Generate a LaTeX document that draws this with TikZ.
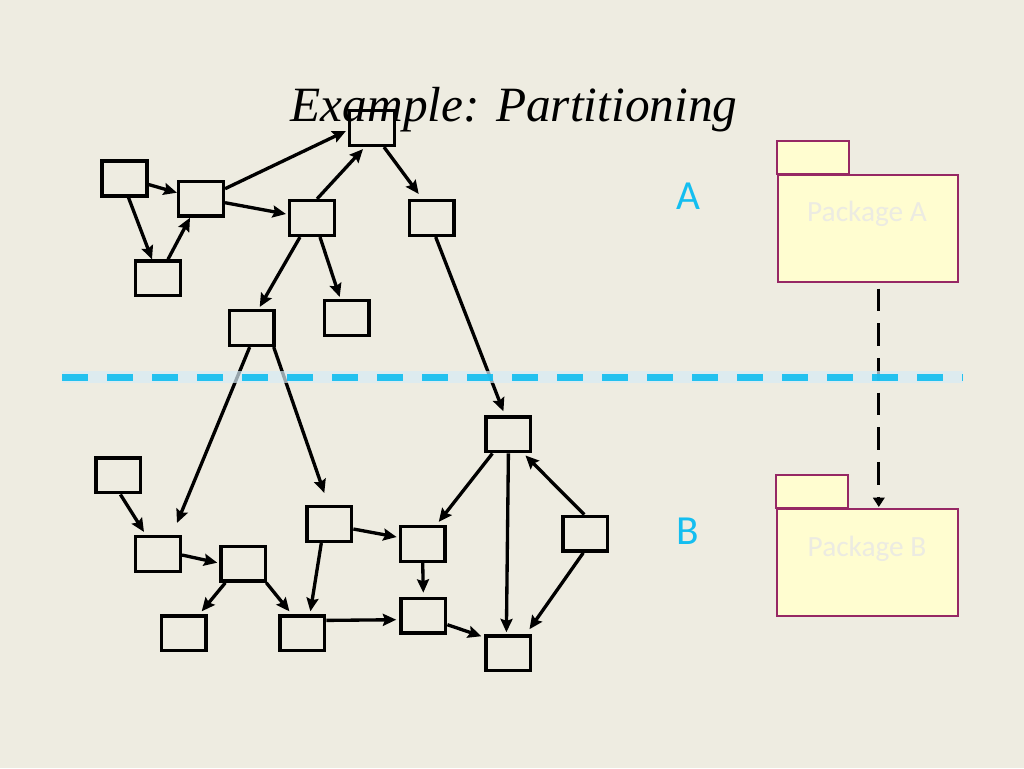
\documentclass[tikz,border=0pt]{standalone}
\usepackage{fontspec}
\setsansfont{Carlito}
\newfontfamily\titlefont{Liberation Serif}
\usetikzlibrary{arrows.meta,calc}
\definecolor{bgtan}{RGB}{238,236,225}
\definecolor{cyanline}{RGB}{20,190,240}
\definecolor{bandblue}{RGB}{215,235,245}
\definecolor{pkgfill}{RGB}{255,253,208}
\definecolor{pkgdraw}{RGB}{150,40,100}
\definecolor{pkgtxt}{RGB}{236,235,226}
\tikzset{
  box/.style={draw=black, line width=2.6pt, minimum width=33.5pt, minimum height=26pt, inner sep=0pt},
  arr/.style={line width=2.5pt, -{Stealth[length=10pt,width=9pt,inset=1.5pt]}},
  pkg/.style={draw=pkgdraw, fill=pkgfill, line width=1.2pt, inner sep=0pt},
  pkgtext/.style={font=\sffamily\fontsize{22}{24}\selectfont, text=pkgtxt},
  sidelabel/.style={font=\sffamily\fontsize{31}{33}\selectfont, text=cyanline},
  dep/.style={line width=2.2pt, dash pattern=on 17pt off 9pt, -{Triangle[length=7pt,width=8.5pt]}}
}
\begin{document}
\begin{tikzpicture}[x=0.75pt,y=-0.75pt]
\fill[bgtan] (0,0) rectangle (1024,768);
\useasboundingbox (0,0) rectangle (1024,768);

% title
\node[font=\titlefont\itshape\fontsize{37}{39}\selectfont, anchor=base] (title) at (514,121) {Example: Partitioning};

% upper boxes
\node[box] (T)  at (372,128) {};
\node[box] (B1) at (124.5,178.5) {};
\node[box] (B2) at (201,198.7) {};
\node[box] (B3) at (158,278.4) {};
\node[box] (B4) at (312,218) {};
\node[box] (B5) at (431.7,218) {};
\node[box] (B6) at (251.7,328) {};
\node[box] (B7) at (346.7,318) {};
% lower boxes
\node[box] (L1) at (118.4,475.4) {};
\node[box] (L2) at (158,554) {};
\node[box] (L3) at (243.3,563.7) {};
\node[box] (L4) at (183.7,633.4) {};
\node[box] (L5) at (302.4,633.4) {};
\node[box] (M1) at (329.3,524) {};
\node[box] (Rt) at (508.4,434.4) {};
\node[box] (M2) at (422.7,544) {};
\node[box] (M3) at (423.3,615.7) {};
\node[box] (BR) at (508.4,653.3) {};
\node[box] (FR) at (585.3,533.7) {};

% upper arrows
\draw[arr] ($(B1.east)+(0,6)$) -- ($(B2.west)+(0,-6)$);
\draw[arr] ($(B1.south)+(4,0)$) -- ($(B3.north)+(-6,0)$);
\draw[arr] ($(B3.north)+(10,0)$) -- ($(B2.south)+(-11,0)$);
\draw[arr] ($(B2.east)+(0,-10)$) -- ($(T.west)+(-2,3)$);
\draw[arr] ($(B2.east)+(0,4)$) -- ($(B4.west)+(-2,-4)$);
\draw[arr] ($(B4.north)+(5,0)$) -- ($(T.south)+(-9,2)$);
\draw[arr] ($(T.south)+(12,0)$) -- ($(B5.north)+(-13,-5)$);
\draw[arr] ($(B4.south)+(-12,0)$) -- ($(B6.north)+(8,-2)$);
\draw[arr] ($(B4.south)+(8,0)$) -- ($(B7.north)+(-7,-2)$);
\draw[arr] ($(B5.south)+(4,0)$) -- ($(Rt.north)+(-5,-4)$);
\draw[arr] ($(B6.south)+(-2,0)$) -- ($(L2.north)+(19,-12)$);
\draw[arr] ($(B6.south)+(22,0)$) -- ($(M1.north)+(-5,-12)$);

% lower arrows
\draw[arr] ($(L1.south)+(2,0)$) -- ($(L2.north)+(-14,-3)$);
\draw[arr] ($(L2.east)+(0,1)$) -- ($(L3.west)+(-2,-1)$);
\draw[arr] ($(L3.south)+(-18,0)$) -- ($(L4.north)+(18,-3)$);
\draw[arr] ($(L3.south)+(23,0)$) -- ($(L5.north)+(-13,-3)$);
\draw[arr] ($(M1.south)+(-8,0)$) -- ($(L5.north)+(8,-3)$);
\draw[arr] ($(M1.east)+(0,5)$) -- ($(M2.west)+(-2,-7)$);
\draw[arr] ($(L5.east)+(0,-13)$) -- ($(M3.west)+(-3,4)$);
\draw[arr] (M2.south) -- ($(M3.north)+(0,-4)$);
\draw[arr] ($(M3.east)+(0,9)$) -- ($(BR.north west)+(-3,2)$);
\draw[arr] ($(Rt.south)+(-16,0)$) -- ($(M2.north)+(16,-3)$);
\draw[arr] (Rt.south) -- ($(BR.north)+(-2,-2)$);
\draw[arr] ($(FR.north)+(-1,0)$) -- ($(Rt.south east)+(-7,2)$);
\draw[arr] ($(FR.south)+(-2,0)$) -- ($(BR.north east)+(-3,-5)$);

% side labels
\node[sidelabel] (labA) at (688,196) {A};
\node[sidelabel] (labB) at (688,531) {B};

% packages
\draw[pkg] (777,141) rectangle (849,174);
\node[pkg, minimum width=135pt, minimum height=80.25pt, anchor=north west] (PA) at (777,174) {};
\node[pkgtext] (PAt) at (867,214) {Package A};
\draw[pkg] (776,475) rectangle (848,508);
\node[pkg, minimum width=135.75pt, minimum height=80.25pt, anchor=north west] (PB) at (776,508) {};
\node[pkgtext] (PBt) at (867,549) {Package B};
\draw[dep] ($(PA.south)+(11,6)$) -- ($(PB.north)+(11.5,-1)$);

% partition line
\coordinate (P0) at (62,377);
\coordinate (P1) at (963,377);
\draw[bandblue, line width=9pt, opacity=0.7] (P0) -- (P1);
\draw[cyanline, line width=5.25pt, dash pattern=on 19.5pt off 14.25pt, opacity=0.92] (P0) -- (P1);
\end{tikzpicture}
\end{document}
